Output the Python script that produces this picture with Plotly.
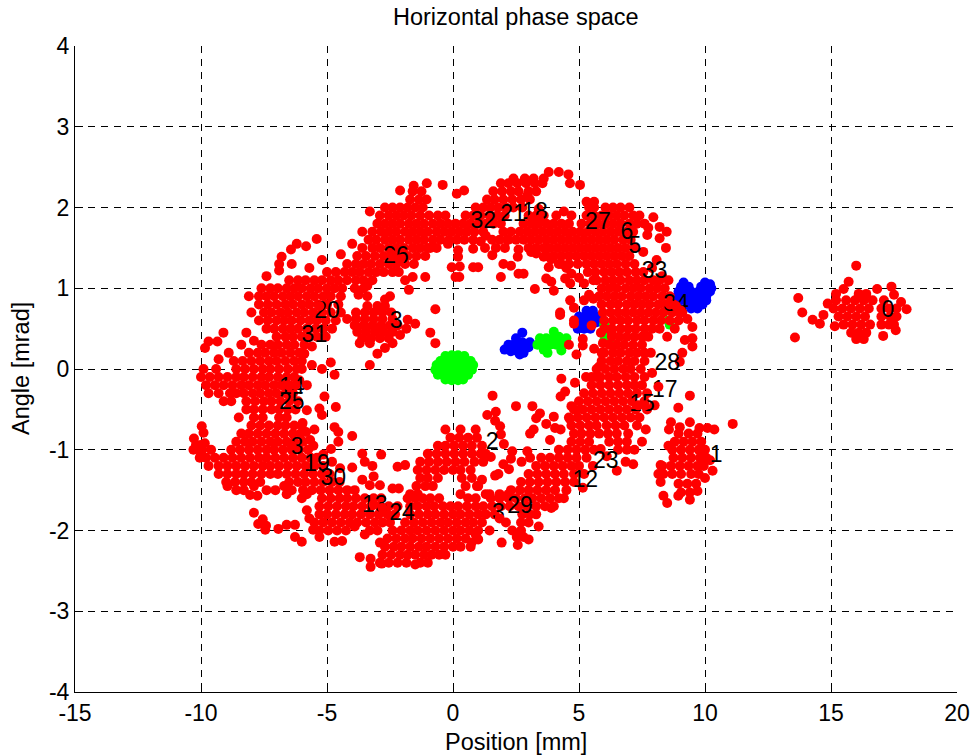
import plotly.graph_objects as go

# Values: (angle mrad, [positions mm])
top_arc_rows = [
 (2.36,[2.4,2.85,3.2,3.6]),
 (2.3,[1.9,2.2,2.55,2.9,3.25,3.55]),
 (2.2,[-1.6,-1.25,1.6,1.95,2.3,2.6,3.0,3.3]),
 (2.1,[-1.7,-1.35,-1.05,1.35,1.65,2.0,2.35,2.7,3.05]),
 (2.0,[-2.7,-2.4,-2.1,-1.8,-1.5,-1.2,0.9,1.2,1.5,1.8,2.1,2.4,2.75,5.4,5.6,6.05,6.35,6.65,7.0]),
 (1.9,[-2.9,-2.55,-2.25,-1.95,-1.65,-1.3,-0.95,-0.6,-0.3,0.5,0.8,1.1,1.45,1.75,2.05,3.0,3.3,3.6,4.1,5.3,5.6,5.9,6.2,6.5,6.8,7.15,7.4]),
 (1.8,[-3.0,-2.7,-2.4,-2.1,-1.75,-1.45,-1.15,-0.8,-0.5,-0.2,0.1,0.4,0.7,1.0,1.3,1.6,1.9,2.8,3.1,3.4,3.7,4.0,4.3,4.6,5.1,5.45,5.75,6.05,6.35,6.65,7.0,7.3,7.6]),
 (1.7,[-3.2,-2.85,-2.55,-2.25,-1.9,-1.6,-1.3,-1.0,-0.65,-0.35,-0.05,0.25,0.55,0.85,1.2,2.0,2.3,2.65,2.95,3.25,3.55,3.85,4.15,4.45,4.75,5.05,5.35,5.65,5.95,6.25,6.55,6.9,7.15]),
 (1.6,[-3.35,-3.05,-2.7,-2.4,-2.1,-1.75,-1.45,-1.15,-0.8,-0.5,-0.15,0.15,0.45,0.8,1.55,1.85,2.15,2.5,2.8,3.1,3.4,3.7,4.0,4.3,4.6,4.9,5.2,5.5,5.8,6.1,6.4,6.75,7.05]),
 (1.5,[-3.6,-3.2,-2.9,-2.55,-2.25,-1.95,-1.6,-1.3,-1.0,-0.65,3.0,3.3,3.6,3.85,4.15,4.45,4.75,5.05,5.35,5.65,5.95,6.25,6.55,6.85,7.2]),
 (1.4,[-3.8,-3.45,-3.1,-2.75,-2.4,-2.1,-1.8,-1.45,-1.1,3.7,4.0,4.3,4.6,4.9,5.2,5.5,5.8,6.1,6.4,6.7,7.0]),
 (1.3,[-4.2,-3.85,-3.55,-3.25,-2.9,-2.55,-2.25,-1.9,-1.55,4.3,4.6,4.95,5.3,5.6,5.9,6.2,6.5,6.85,7.2]),
 (1.2,[-5.0,-4.65,-4.3,-4.0,-3.7,-3.35,-3.05,-2.75,-2.4,-2.15,5.35,5.65,6.0,6.3,6.6,6.9,7.25,7.55]),
 (1.1,[-6.5,-6.15,-5.85,-5.5,-5.2,-4.85,-4.55,-4.2,-3.85,-3.55,-3.2,5.7,6.05,6.35,6.65,7.0,7.3,7.6,7.95,8.2]),
 (1.0,[-7.6,-7.25,-6.95,-6.6,-6.3,-6.0,-5.65,-5.35,-5.0,-4.7,-4.4,-3.9,5.9,6.2,6.5,6.85,7.15,7.45,7.8,8.1,8.4]),
 (0.9,[-7.7,-7.4,-7.1,-6.75,-6.45,-6.15,-5.8,-5.5,-5.15,-4.85,-4.45,5.8,6.1,6.4,6.7,7.05,7.35,7.65,7.95,8.3,8.6]),
 (0.8,[-7.7,-7.35,-7.0,-6.65,-6.35,-6.0,-5.7,-5.35,-5.0,-4.55,5.9,6.25,6.55,6.9,7.2,7.5,7.8,8.15,8.45,8.75]),
 (0.7,[-7.5,-7.2,-6.85,-6.55,-6.2,-5.9,-5.55,-5.2,-4.85,-4.45,5.95,6.25,6.55,6.85,7.15,7.45,7.75,8.05,8.35,8.7,9.0,9.1]),
 (0.6,[-7.7,-7.35,-7.0,-6.7,-6.4,-6.05,-5.7,-5.4,-5.05,-4.65,6.0,6.35,6.65,6.95,7.3,7.6,7.95,8.25,8.6,8.95]),
 (0.5,[-7.4,-7.1,-6.75,-6.45,-6.15,-5.8,-5.45,-5.15,-4.8,6.0,6.3,6.65,6.95,7.25,7.6,7.9,8.2,8.8]),
 (0.4,[-7.0,-6.65,-6.35,-6.0,-5.7,-5.4,-5.05,6.3,6.6,6.9,7.2,7.5,8.5]),
 (0.3,[-7.6,-7.25,-6.95,-6.6,-6.3,-5.9,6.2,6.5,6.8,7.15,7.5]),
 (0.2,[-8.1,-7.75,-7.45,-7.1,-6.8,-6.45,-6.1,6.0,6.35,6.65,7.0,7.3,7.6]),
]
left_side_rows = [
 (0.1,[-8.7,-8.35,-8.0,-7.65,-7.3,-7.0,-6.65,-6.3,-6.0]),
 (0.0,[-9.9,-9.4,-8.6,-8.25,-7.9,-7.55,-7.25,-6.9,-6.55,-6.2]),
 (-0.1,[-10.0,-9.65,-9.3,-8.95,-8.6,-8.3,-7.95,-7.6,-7.3,-6.95,-6.6,-6.3]),
 (-0.2,[-9.8,-9.45,-9.1,-8.75,-8.4,-8.1,-7.75,-7.45,-7.1,-6.8,-6.5]),
 (-0.3,[-9.7,-9.3,-8.85,-8.3,-7.95,-7.65,-7.3,-7.0,-6.65,-6.35]),
 (-0.4,[-9.1,-8.8,-8.2,-7.85,-7.5,-7.2,-6.85,-6.5,-6.15]),
 (-0.5,[-8.2,-7.9,-7.55,-7.2,-6.9,-6.55,-6.25]),
 (-0.6,[-7.9,-7.55,-6.9,-6.6]),
 (-0.7,[-8.0,-7.65,-7.3,-6.95,-6.65,-6.3,-6.0]),
 (-0.8,[-8.1,-7.75,-7.4,-7.05,-6.7,-6.35,-6.05]),
 (-0.9,[-8.6,-8.25,-7.95,-7.6,-7.25,-6.95,-6.6,-6.3,-5.95]),
 (-1.0,[-9.95,-9.6,-8.8,-8.45,-8.1,-7.75,-7.4,-7.1,-6.75,-6.4,-6.1,-5.75]),
 (-1.1,[-9.8,-9.45,-9.1,-8.75,-8.4,-8.05,-7.7,-7.4,-7.05,-6.7,-6.35,-6.0,-5.65,-5.4]),
 (-1.2,[-9.7,-9.3,-8.95,-8.6,-8.25,-7.9,-7.55,-7.25,-6.9,-6.55,-6.2,-5.85,-5.5,-5.15]),
 (-1.3,[-9.3,-8.95,-8.6,-8.3,-7.95,-7.6,-7.25,-6.95,-6.6,-6.25,-5.9,-5.55,-5.2,-4.9]),
 (-1.4,[-9.0,-8.65,-8.3,-8.0,-7.65,-6.5,-6.15,-5.85,-5.5,-5.15,-4.8,-4.5]),
 (-1.5,[-8.6,-8.3,-7.4,-7.05,-6.4,-5.95,-5.6,-5.25,-4.9,-4.55,-4.2,-3.9]),
]
bottom_arc_rows = [
 (-1.6,[-6.0,-5.2,-4.85,-4.5,-4.2,-3.85,-3.5,-3.15,-2.85,-1.8,-1.5,-1.2,-0.9,-0.55,0.6,0.9,1.5,1.85,2.2,2.5,2.85,3.15,3.5,3.85,4.2]),
 (-1.7,[-5.3,-4.95,-4.6,-4.25,-3.95,-3.6,-3.25,-2.9,-2.55,-2.2,-1.7,-1.4,-1.05,-0.75,-0.4,-0.1,0.2,0.55,0.9,1.2,1.55,1.9,2.25,2.6,2.95,3.3,3.65,4.0]),
 (-1.8,[-5.3,-5.0,-4.65,-4.3,-4.0,-3.65,-3.3,-2.95,-2.6,-2.3,-1.7,-1.35,-1.0,-0.7,-0.35,0.0,0.3,0.65,1.0,1.3,1.65,2.75,3.05,3.3]),
 (-1.9,[-5.5,-5.15,-4.8,-4.45,-4.1,-3.8,-3.45,-3.1,-2.8,-2.5,-1.9,-1.55,-1.2,-0.85,-0.5,-0.2,0.15,0.5,0.8,1.15,2.7,3.0]),
 (-2.0,[-5.3,-4.95,-4.6,-4.25,-3.3,-3.0,-2.4,-2.05,-1.7,-1.4,-1.05,-0.7,-0.35,0.0,0.3,0.65,1.0,1.45,2.35,2.7]),
 (-2.1,[-2.6,-2.25,-1.9,-1.6,-1.25,-0.9,-0.55,-0.2,0.15,0.5,0.95]),
 (-2.2,[-2.7,-2.35,-2.05,-1.7,-1.35,-1.05,-0.7,-0.35,0.0,0.3,0.7]),
 (-2.3,[-2.8,-2.45,-2.1,-1.8,-1.5,-1.15,-0.85,-0.55,-0.3]),
 (-2.4,[-2.9,-2.55,-2.2,-1.85,-1.3,-1.0]),
]
right_side_rows = [
 (0.1,[5.9,6.25,6.55,6.9,7.2,7.6]),
 (0.0,[5.7,6.05,6.4,6.75,7.05,7.45]),
 (-0.1,[5.5,5.85,6.2,6.5,6.85,7.2,7.6]),
 (-0.2,[5.5,5.85,6.2,6.55,6.9,7.2,7.5]),
 (-0.3,[5.2,5.55,5.9,6.25,6.6,6.95,7.3,7.7]),
 (-0.4,[5.0,5.35,5.7,6.05,6.4,6.75,7.1,7.6]),
 (-0.5,[4.8,5.15,5.5,5.85,6.2,6.55,6.9,7.25,7.7]),
 (-0.6,[4.6,4.95,5.3,5.65,6.0,6.35,6.7,7.05,7.4]),
 (-0.7,[4.7,5.05,5.4,5.7,6.1,6.45,6.8,7.3]),
 (-0.8,[4.8,5.1,5.45,5.8,6.15,6.5,6.95]),
 (-0.9,[4.7,5.05,5.4,6.2,6.55,6.9]),
 (-1.0,[4.2,4.55,4.9,5.25,5.6,6.55,6.9]),
 (-1.1,[3.5,3.85,4.2,4.55,4.9,5.3]),
 (-1.2,[3.3,3.65,4.0,4.35,4.7,5.0]),
 (-1.3,[3.0,3.35,3.7,4.05,4.4,4.8]),
 (-1.4,[2.7,3.05,3.4,3.75,4.1,4.45,4.8]),
 (-1.5,[2.3,2.65,3.0,3.35,3.7,4.05,4.5]),
]
inner_lower_rows = [
 (-0.85,[-0.1,0.25,0.6,0.95]),
 (-0.95,[-0.6,-0.3,0.05,0.4,0.75,1.15]),
 (-1.05,[-1.0,-0.65,-0.3,0.05,0.4,0.75,1.1,1.3]),
 (-1.15,[-1.3,-0.95,-0.6,-0.25,0.1,0.45,0.85,1.2]),
 (-1.25,[-1.4,-1.05,-0.7,-0.35,0.0,0.3,0.7]),
 (-1.35,[-1.3,-1.0,-0.6,0.35,0.75]),
 (-1.45,[-1.45,-1.1,-0.8,0.5,1.0]),
 (-1.55,[-1.7,-1.4,0.3,1.45,1.85,2.2]),
]
cluster3_rows = [
 (0.78,[-3.4,-3.0,-2.7]),
 (0.7,[-3.85,-3.5,-3.15,-2.8,-2.45]),
 (0.62,[-4.2,-3.85,-3.5,-3.15,-2.8,-2.4]),
 (0.54,[-3.9,-3.55,-3.2,-2.85,-2.5,-2.2]),
 (0.46,[-3.8,-3.45,-3.1,-2.75,-2.4]),
 (0.38,[-3.6,-3.25,-2.9,-2.55]),
 (0.32,[-3.7,-3.3,-2.4]),
]
cluster1_rows = [
 (-0.8,[8.95,9.35,9.7]),
 (-0.9,[8.8,9.15,9.5,9.85]),
 (-1.0,[8.7,9.05,9.4,9.75,10.0]),
 (-1.1,[8.75,9.1,9.45,9.8,10.05]),
 (-1.2,[8.3,8.65,9.0,9.35,9.7,9.95]),
 (-1.3,[8.35,8.7,9.05,9.45,9.75]),
 (-1.42,[8.95,9.3,9.65]),
 (-1.53,[9.05,9.4]),
]
cluster0_rows = [
 (0.93,[15.2,16.1,16.4]),
 (0.85,[15.2,15.6,15.95,16.3,16.65,17.1]),
 (0.75,[15.1,15.45,15.8,16.15,16.5,17.0,17.3,17.6]),
 (0.65,[15.3,15.65,16.0,16.35,17.0,17.35,17.6]),
 (0.55,[15.5,15.85,16.2,16.55,17.0,17.3,17.5]),
 (0.45,[15.8,16.1,16.4]),
 (0.37,[16.0,16.3]),
]
loose_red = [
 (-0.41,2.28),(-1.04,2.30),(-1.56,2.27),(-2.1,2.21),(-5.41,1.61),(-6.2,1.55),(-5.83,1.52),(-6.43,1.48),(-6.8,1.39),
 (-6.4,1.3),(-6.9,1.22),(-7.4,1.15),(-9.11,0.45),(-9.7,0.34),(-9.84,0.26),(-9.35,0.34),(-0.7,0.74),(-0.9,0.45),(-0.7,0.32),
 (-1.5,0.56),(-1.8,0.61),(-1.85,0.5),(-2.1,0.42),(-2.7,0.26),(-3.0,0.19),(-3.3,0.05),(-2.5,0.9),(-2.7,0.86),(-3.4,0.9),
 (-3.75,0.92),(-3.4,1.03),(-3.55,1.0),(-1.75,0.98),(-1.9,1.1),(-1.6,1.14),(-1.1,1.14),(0.25,1.14),(0.1,1.14),(-0.05,1.26),
 (0.8,1.26),(1.0,1.26),(0.27,1.27),(0.2,1.39),(0.2,1.47),(0.8,1.49),(-4.85,0.08),(-4.7,-0.07),(-5.2,0.0),(-5.6,0.05),
 (-6.0,0.0),(-5.6,0.28),(-5.9,0.19),(1.27,1.5),(1.7,1.5),(2.06,1.5),(1.56,1.41),(2.0,1.3),(2.3,1.28),(1.9,1.14),(2.6,1.18),
 (2.8,1.18),(2.6,1.48),(2.57,1.39),(3.1,1.45),(3.3,1.43),(3.6,1.39),(3.9,1.36),(4.2,1.3),(3.8,1.26),(4.5,1.25),(4.7,1.18),
 (5.0,1.13),(5.2,1.06),(4.45,1.12),(4.65,1.06),(3.7,1.12),(3.9,1.08),(4.0,0.97),(3.25,0.99),(5.57,1.1),(5.4,0.92),(5.57,0.87),
 (5.2,0.85),(4.65,0.85),(4.8,0.76),(4.25,0.7),(4.25,0.67),(4.8,0.6),(4.8,0.56),(5.5,0.54),(4.6,0.3),(5.15,0.37),(5.15,0.29),
 (4.9,0.18),(5.6,0.25),(5.9,0.2),(5.8,0.03),(5.95,0.32),(5.87,0.45),(6.3,0.45),(9.1,0.2),(9.0,0.09),(9.5,0.28),(9.2,0.36),
 (9.5,0.38),(9.5,0.52),(8.48,1.7),(8.2,1.62),(8.45,1.5),(7.71,1.66),(8.08,1.35),(7.95,1.88),(8.2,1.76),(5.04,2.28),(4.64,2.3),
 (4.58,2.41),(4.2,2.44),(3.8,2.44),(0.15,2.17),(0.44,2.21),(5.3,2.07),(5.6,2.07),(-5.8,-0.2),(-5.8,-0.51),(-6.1,-0.14),
 (-5.1,-0.34),(-4.65,-0.47),(-5.3,-0.49),(-5.2,-0.57),(-5.97,-0.67),(-5.83,-0.78),(-5.67,-0.88),(-5.54,-0.95),(-5.5,-0.75),
 (-4.7,-0.72),(-4.55,-0.78),(-4.0,-0.83),(-4.55,-0.9),(-4.84,-0.99),(-5.15,-1.06),(-4.8,-1.15),(-4.48,-1.23),(-4.0,-1.22),
 (-3.6,-1.05),(-3.5,-1.15),(-3.2,-1.2),(-2.85,-1.06),(-3.6,-1.37),(-3.15,-1.33),(-3.3,-1.44),(-2.9,-1.44),(-2.2,-1.21),(-1.9,-1.19),
 (-2.4,-1.48),(-2.15,-1.48),(-9.97,-0.71),(-9.9,-0.79),(-10.28,-0.86),(-10.0,-0.94),(-9.85,-0.92),(-10.0,-1.06),(-10.2,-0.94),
 (-3.7,-2.33),(-3.27,-2.35),(-3.27,-2.45),(-2.83,-2.41),(-7.9,-1.78),(-7.55,-1.86),(-7.73,-1.92),(-7.42,-1.94),(-7.45,-1.99),
 (-6.93,-1.98),(-6.6,-1.93),(-6.27,-1.93),(-6.0,-2.14),(-6.27,-2.08),(-5.55,-1.99),(-5.3,-2.08),(-4.7,-2.14),(-4.4,-2.13),
 (-8.05,-1.56),(-7.76,-1.57),(11.1,-0.68),(9.4,-0.33),(8.94,-0.48),(8.65,-0.66),(9.4,-0.66),(8.57,-0.75),(10.1,-0.73),(10.37,-0.75),
 (9.78,-0.73),(9.0,-0.72),(10.2,-1.13),(10.3,-1.26),(10.0,-1.35),(9.7,-1.51),(9.4,-1.62),(8.94,-1.57),(8.5,-1.66),(8.35,-1.57),
 (8.24,-1.4),(8.15,-1.3),(8.24,-1.19),(8.55,-0.95),(1.57,-0.33),(2.5,-0.46),(3.15,-0.46),(3.45,-0.55),(3.3,-0.61),(4.0,-0.59),
 (3.7,-0.68),(4.05,-0.73),(4.27,-0.75),(4.64,-0.62),(3.2,-0.75),(3.06,-0.8),(3.85,-0.88),(1.36,-0.57),(1.7,-0.53),(1.67,-0.64),
 (1.87,-0.71),(1.9,-0.81),(2.35,-1.02),(2.02,-0.93),(2.3,-1.11),(2.0,-1.18),(2.22,-1.24),(2.95,-1.02),(2.72,-1.15),(3.06,-1.1),
 (1.5,-1.09),(1.15,-1.37),(1.67,-1.32),(1.8,-1.3),(1.93,-2.15),(1.0,-2.11),(2.53,-2.08),(2.57,-2.18),(2.8,-2.08),(3.0,-2.11),
 (0.74,-2.15),(6.5,-1.26),(6.85,-1.15),(7.15,-1.18),(5.86,-0.99),(5.15,-1.47),(4.3,-0.12),(4.84,-0.17),(5.28,-0.1),(5.7,-0.1),
 (4.45,-0.28),(4.27,-0.34),(4.7,-0.46),(4.9,-0.51),(16.0,1.28),(15.7,1.08),(15.5,0.99),(16.83,0.99),(17.4,1.02),(17.5,0.92),
 (17.78,0.83),(18.0,0.74),(13.7,0.88),(13.86,0.7),(14.27,0.61),(14.56,0.56),(13.57,0.39),(14.7,0.67),(14.87,0.81),(15.15,0.53),
 (17.57,0.48),(17.07,0.41),
 (-3.3,1.95),(-3.6,1.7),(-4.0,1.55),(-4.45,1.42),(-5.2,1.35),(-5.7,1.25),(-8.1,0.9),(-8.0,0.7),(-8.2,0.45),(-8.4,0.3),
 (-8.9,0.2),(-9.3,0.12),(-7.9,0.35),(-6.9,1.3),(-0.2,1.55),(-0.9,1.5),(1.1,1.58),(1.3,1.65),(2.2,1.6),(3.4,1.98),
 (2.95,2.15),(4.4,1.95),(4.7,1.9),(7.75,1.75),(7.55,1.45),(7.9,1.25),(8.3,1.15),(8.55,1.1),(9.3,0.62),
 (7.75,0.4),(7.85,0.2),(7.9,-0.05),(8.0,-0.45),(7.65,-0.75),(7.5,-0.9),(7.2,-1.0),(6.1,-1.08),(5.55,-1.2),(5.2,-1.3),
 (4.4,-1.6),(3.9,-1.72),(3.4,-1.95),(2.1,-1.9),(-5.8,-1.55),(-6.6,-1.55),(-7.9,-1.45),(-8.95,-1.45),(-10.05,-1.1),(-10.3,-1.0),
 (-8.5,-0.6),(-8.6,-0.3),(-8.4,-0.8),(-6.7,-1.45),(-5.8,-1.75),(-5.7,-1.85),(-3.9,-1.95),(-3.5,-2.05),(-2.9,-2.15),(-1.5,-2.42),
 (0.9,-2.05),(1.3,-1.55),(0.95,-1.45),(-0.3,-0.75),(0.3,-0.75),(0.9,-0.75),
]
cover_red = [(-2.1,1.36),(-2.45,1.42),(8.6,0.8),(8.85,0.78),(9.05,0.72),(7.35,-0.45),(7.62,-0.45),(-5.3,0.78),(3.15,1.86),(3.42,1.85),(1.85,-1.85),
             (-6.4,-0.95),(-6.55,-0.2),(-6.25,-0.2),(8.15,-0.22),(-3.15,-1.68),(-2.8,-1.72)]

blue_x = [9.15,10.0,10.2,9.05,9.35,9.85,10.1,10.25,8.95,9.2,9.45,9.75,10.0,10.2,8.9,9.2,9.5,9.8,10.05,9.0,9.25,9.55,9.85,10.05,9.3,9.6,9.9,9.45,9.7,
          5.3,5.55,5.0,5.25,5.5,5.7,4.95,5.2,5.45,5.7,4.95,5.2,5.45,
          2.75,2.5,2.75,2.4,2.65,2.9,2.2,2.55,2.8,3.0,2.05,2.65,2.3,3.05]
blue_y = [1.07,1.07,1.05,1.02,1.02,1.02,1.02,1.0,0.96,0.96,0.96,0.96,0.96,0.96,0.9,0.9,0.9,0.9,0.9,0.85,0.85,0.85,0.85,0.85,0.8,0.8,0.8,0.75,0.75,
          0.72,0.72,0.65,0.65,0.65,0.65,0.58,0.58,0.58,0.58,0.5,0.5,0.5,
          0.45,0.38,0.33,0.3,0.28,0.3,0.3,0.22,0.2,0.27,0.24,0.18,0.22,0.33]
green_x = [-0.3,-0.05,0.2,0.45,-0.5,-0.25,0.0,0.25,0.5,0.7,-0.65,-0.4,-0.15,0.1,0.35,0.6,0.8,-0.7,-0.45,-0.2,0.05,0.3,0.55,0.75,
           -0.6,-0.35,-0.1,0.15,0.4,0.6,-0.3,-0.05,0.2,0.4,
           3.45,3.7,3.95,4.2,4.5,3.35,3.6,3.85,4.1,4.35,3.6,3.75,4.3,4.0,4.0,
           6.0,5.9,6.2,6.0,6.2,8.6,8.55]
green_y = [0.16,0.17,0.17,0.16,0.1,0.11,0.11,0.11,0.11,0.1,0.05,0.05,0.05,0.05,0.05,0.05,0.05,-0.01,-0.01,-0.01,-0.01,-0.01,-0.01,-0.01,
           -0.07,-0.08,-0.08,-0.08,-0.08,-0.07,-0.13,-0.14,-0.14,-0.13,
           0.38,0.38,0.38,0.4,0.38,0.3,0.3,0.3,0.3,0.3,0.24,0.2,0.23,0.46,0.33,
           0.55,0.45,0.42,0.35,0.36,0.55,0.6]

label_text = ["0","1","2","3","5","6","17","8","3","12","19","23","14","25","24","28","29","30","31","32","21","18","27","33","26","20","34","15","13"]
label_x = [17.26,10.44,1.55,-2.26,7.22,6.9,8.4,-6.19,1.8,5.25,-5.4,6.06,-6.4,-6.4,-2.02,8.5,2.66,-4.75,-5.5,1.2,2.38,3.25,5.75,8.0,-2.26,-5.0,8.85,7.5,-3.1]
label_y = [0.71,-1.08,-0.92,0.58,1.51,1.68,-0.27,-0.98,-1.8,-1.39,-1.19,-1.15,-0.24,-0.42,-1.8,0.06,-1.71,-1.37,0.41,1.82,1.91,1.93,1.8,1.2,1.39,0.7,0.79,-0.45,-1.7]

x_tick_values = [-15,-10,-5,0,5,10,15,20]
x_tick_labels = ["-15","-10","-5","0","5","10","15","20"]
y_tick_values = [-4,-3,-2,-1,0,1,2,3,4]
y_tick_labels = ["-4","-3","-2","-1","0","1","2","3","4"]

def flatten(rows):
    return [(x, y) for y, xs in rows for x in xs]

red_pairs = (flatten(top_arc_rows) + flatten(left_side_rows) + flatten(bottom_arc_rows)
             + flatten(right_side_rows) + flatten(inner_lower_rows) + flatten(cluster3_rows)
             + flatten(cluster1_rows) + flatten(cluster0_rows) + loose_red)

MS = 10
FS = 23
fig = go.Figure()
fig.add_trace(go.Scatter(x=blue_x, y=blue_y, mode="markers", marker=dict(color="#0000ff", size=MS, line_width=0)))
fig.add_trace(go.Scatter(x=green_x, y=green_y, mode="markers", marker=dict(color="#00ff00", size=MS, line_width=0)))
fig.add_trace(go.Scatter(x=[p[0] for p in red_pairs], y=[p[1] for p in red_pairs], mode="markers",
                         marker=dict(color="#ff0000", size=MS, line_width=0)))
fig.add_trace(go.Scatter(x=label_x, y=label_y, mode="text", text=label_text, textposition="middle center",
                         textfont=dict(family="Liberation Sans", size=FS, color="black")))
fig.add_trace(go.Scatter(x=[p[0] for p in cover_red], y=[p[1] for p in cover_red], mode="markers",
                         marker=dict(color="#ff0000", size=MS, line_width=0)))

axis_common = dict(showgrid=True, gridcolor="black", griddash="7px,6px", gridwidth=1, zeroline=False,
                   showline=True, linecolor="black", linewidth=1, mirror=False, automargin=False,
                   ticks="inside", ticklen=8, tickcolor="black", tickwidth=1,
                   tickfont=dict(family="Liberation Sans", size=FS, color="black"))
fig.update_xaxes(range=[-15,20], tickmode="array", tickvals=x_tick_values, ticktext=x_tick_labels, **axis_common)
fig.update_yaxes(range=[-4,4], tickmode="array", tickvals=y_tick_values, ticktext=y_tick_labels, **axis_common)
fig.update_layout(
    template="none", width=973, height=756, autosize=False, showlegend=False,
    margin=dict(l=75, r=16, t=46, b=64, pad=0), plot_bgcolor="white", paper_bgcolor="white",
    font=dict(family="Liberation Sans", color="black"),
    annotations=[
      dict(text="Horizontal phase space", x=0.5, y=1, xref="paper", yref="paper", xanchor="center", yanchor="middle", yshift=29, showarrow=False, font=dict(size=FS+0.5)),
      dict(text="Position [mm]", x=0.5, y=0, xref="paper", yref="paper", xanchor="center", yanchor="middle", yshift=-50, showarrow=False, font=dict(size=FS+0.5)),
      dict(text="Angle [mrad]", x=0, y=0.5, xref="paper", yref="paper", xanchor="center", yanchor="middle", xshift=-54, textangle=-90, showarrow=False, font=dict(size=FS+0.5)),
    ],
)
fig.write_html("out.html", post_script="document.body.style.margin='0';", config={"displayModeBar": False})
